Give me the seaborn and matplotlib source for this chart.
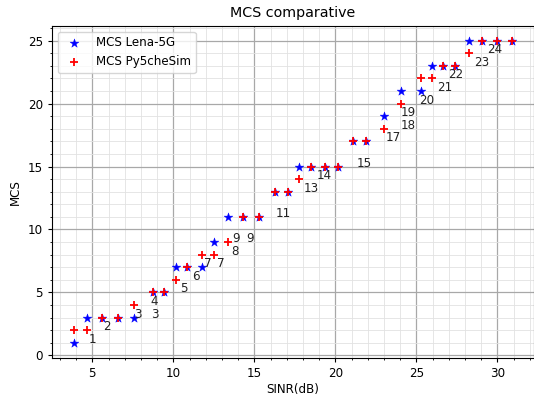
import matplotlib
matplotlib.use('Agg')
import matplotlib.pyplot as plt
import seaborn as sns
import pandas as pd
from matplotlib.ticker import MultipleLocator

# Data
sinr = [3.85, 4.7, 5.6, 6.6, 7.6, 8.75, 9.45, 10.15, 10.85, 11.75, 12.5, 13.4, 14.3, 15.3,
        16.3, 17.05, 17.75, 18.5, 19.35, 20.15, 21.1, 21.9, 23.0, 24.05, 25.25, 25.95,
        26.65, 27.4, 28.25, 29.05, 30.0, 30.9]
mcs_lena = [1, 3, 3, 3, 3, 5, 5, 7, 7, 7, 9, 11, 11, 11, 13, 13, 15, 15, 15, 15, 17, 17,
            19, 21, 21, 23, 23, 23, 25, 25, 25, 25]
mcs_py = [2, 2, 3, 3, 4, 5, 5, 6, 7, 8, 8, 9, 11, 11, 13, 13, 14, 15, 15, 15, 17, 17,
          18, 20, 22, 22, 23, 23, 24, 25, 25, 25]

# labels of the threshold points
label_text = ['1', '2', '3', '3', '4', '5', '6', '7', '7', '8', '9', '9', '11', '13', '14',
              '15', '17', '18', '19', '20', '21', '22', '23', '24']
label_x = [4.8, 5.65, 7.6, 8.6, 8.6, 10.4, 11.15, 11.9, 12.7, 13.6, 13.65, 14.5, 16.3,
           18.05, 18.85, 21.3, 23.1, 24.0, 24.0, 25.15, 26.25, 26.95, 28.55, 29.35]
label_y = [1, 2, 3, 3, 4, 5, 6, 7, 7, 8, 9, 9, 11, 13, 14, 15, 17, 18, 19, 20, 21, 22, 23, 24]

df = pd.DataFrame({'sinr': sinr, 'lena': mcs_lena, 'py': mcs_py})

plt.rcParams['font.size'] = 8.6
plt.rcParams['xtick.major.size'] = 3.0
plt.rcParams['ytick.major.size'] = 3.0
plt.rcParams['xtick.minor.size'] = 1.7
plt.rcParams['ytick.minor.size'] = 1.7

fig = plt.figure(figsize=(5.34, 3.99), dpi=100)
ax = fig.add_axes([0.097, 0.103, 0.903, 0.833])

sns.scatterplot(data=df, x='sinr', y='lena', marker='*', color='blue', s=44,
                edgecolor='blue', linewidth=0.3, label='MCS Lena-5G', ax=ax, zorder=3)
sns.scatterplot(data=df, x='sinr', y='py', marker='+', color='red', s=32,
                linewidth=1.3, label='MCS Py5cheSim', ax=ax, zorder=4)

for t, xx, yy in zip(label_text, label_x, label_y):
    ax.annotate(t, (xx, yy), fontsize=8.6, color='#222222')

ax.xaxis.set_major_locator(MultipleLocator(5))
ax.xaxis.set_minor_locator(MultipleLocator(1))
ax.yaxis.set_major_locator(MultipleLocator(5))
ax.yaxis.set_minor_locator(MultipleLocator(1))
ax.grid(which='major', color='#a8a8a8', linewidth=0.9)
ax.grid(which='minor', color='#e2e2e2', linewidth=0.6)
ax.set_axisbelow(True)

ax.set_title('MCS comparative', fontsize=10.3)
ax.set_xlabel('SINR(dB)', labelpad=2.5)
ax.set_ylabel('MCS')
ax.legend(loc='upper left')

fig.savefig('out.png', dpi=100)
